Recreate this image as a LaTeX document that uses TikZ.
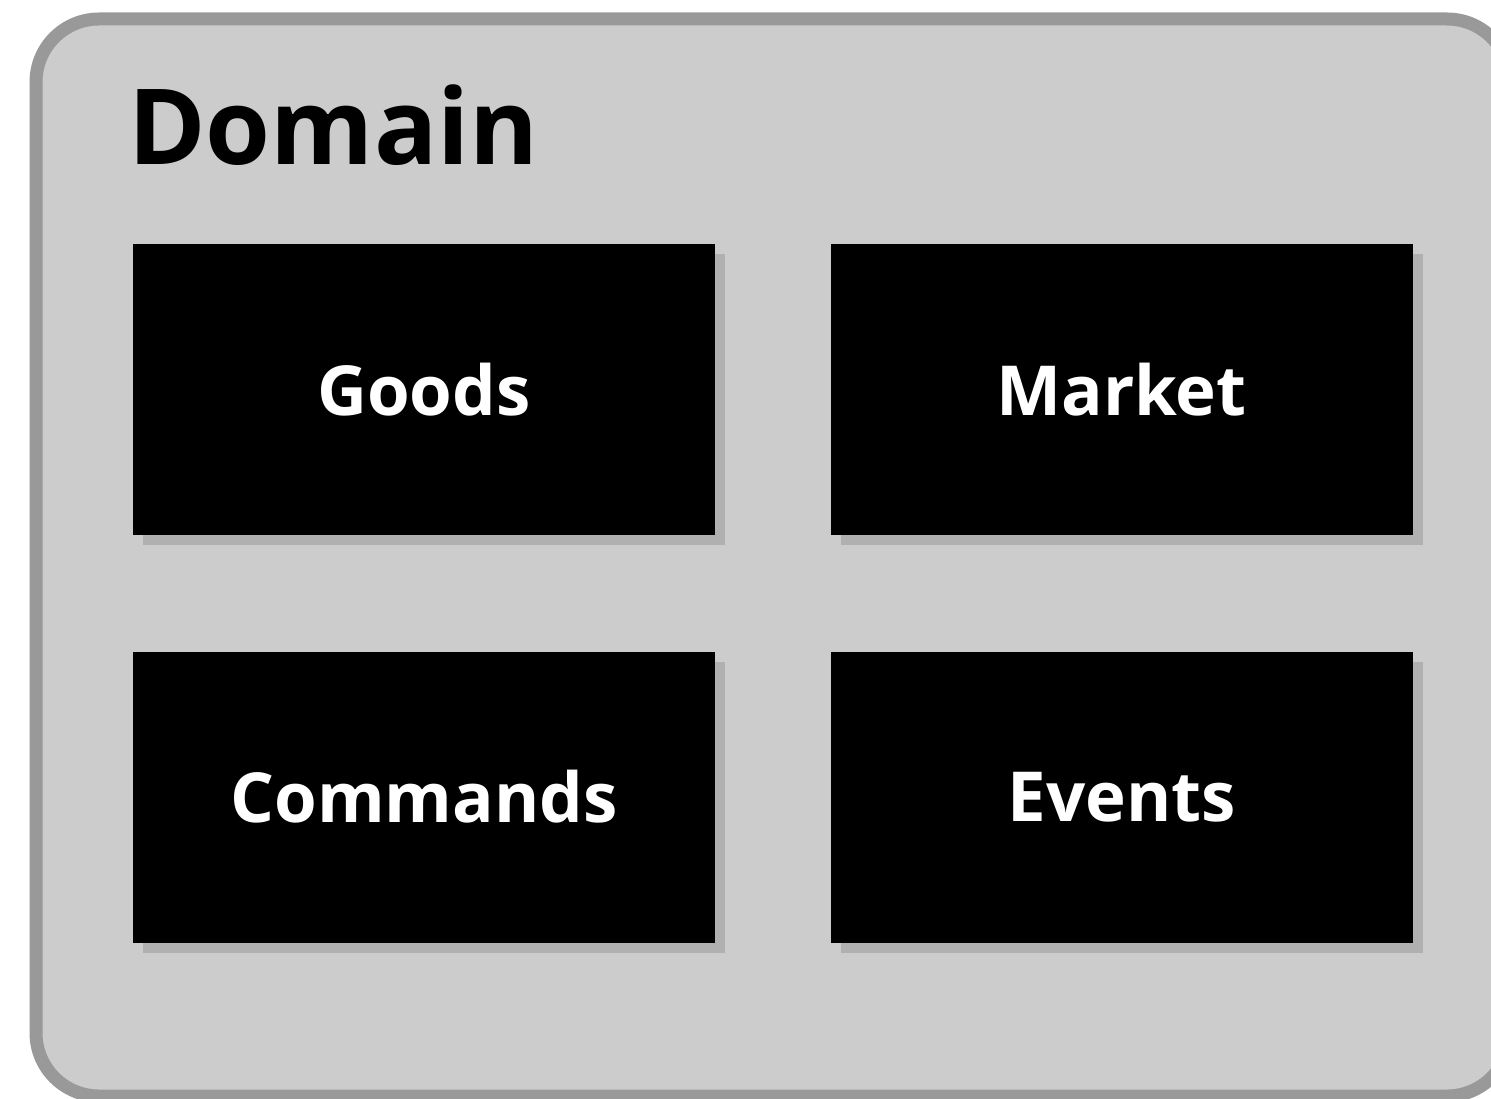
\documentclass[tikz,border=0pt]{standalone}
\usepackage{fontspec}
\setmainfont{Open Sans}
\usetikzlibrary{shadows}
\definecolor{outerfill}{HTML}{CCCCCC}
\definecolor{outerline}{HTML}{999999}
\definecolor{shadowgray}{HTML}{B0B0B0}
\tikzset{
  domainbox/.style={draw=outerline, fill=outerfill, line width=13pt, rounded corners=63pt},
  partbox/.style={fill=black, inner sep=0pt, minimum width=582pt, minimum height=291pt,
    text=white, font=\bfseries\fontsize{69}{80}\selectfont,
    drop shadow={shadow xshift=10pt, shadow yshift=-10pt, fill=shadowgray, opacity=1}},
  titletext/.style={inner sep=0pt, anchor=base west, font=\bfseries\fontsize{105}{120}\selectfont}
}
\begin{document}
\begin{tikzpicture}[x=1pt,y=-1pt]
\useasboundingbox (0,0) rectangle (1491,1099);
\begin{scope}
\clip (0,0) rectangle (1491,1099);
\draw[domainbox] (36,19) rectangle (1510,1096);
\end{scope}
\node[titletext] (title) at (128,165) {Domain};
\node[partbox] (goods) at (424,389.5) {Goods};
\node[partbox] (market) at (1121.5,389.5) {Market};
\node[partbox] (commands) at (424,797) {Commands};
\node[partbox] (events) at (1121.5,797) {Events};
\end{tikzpicture}
\end{document}
